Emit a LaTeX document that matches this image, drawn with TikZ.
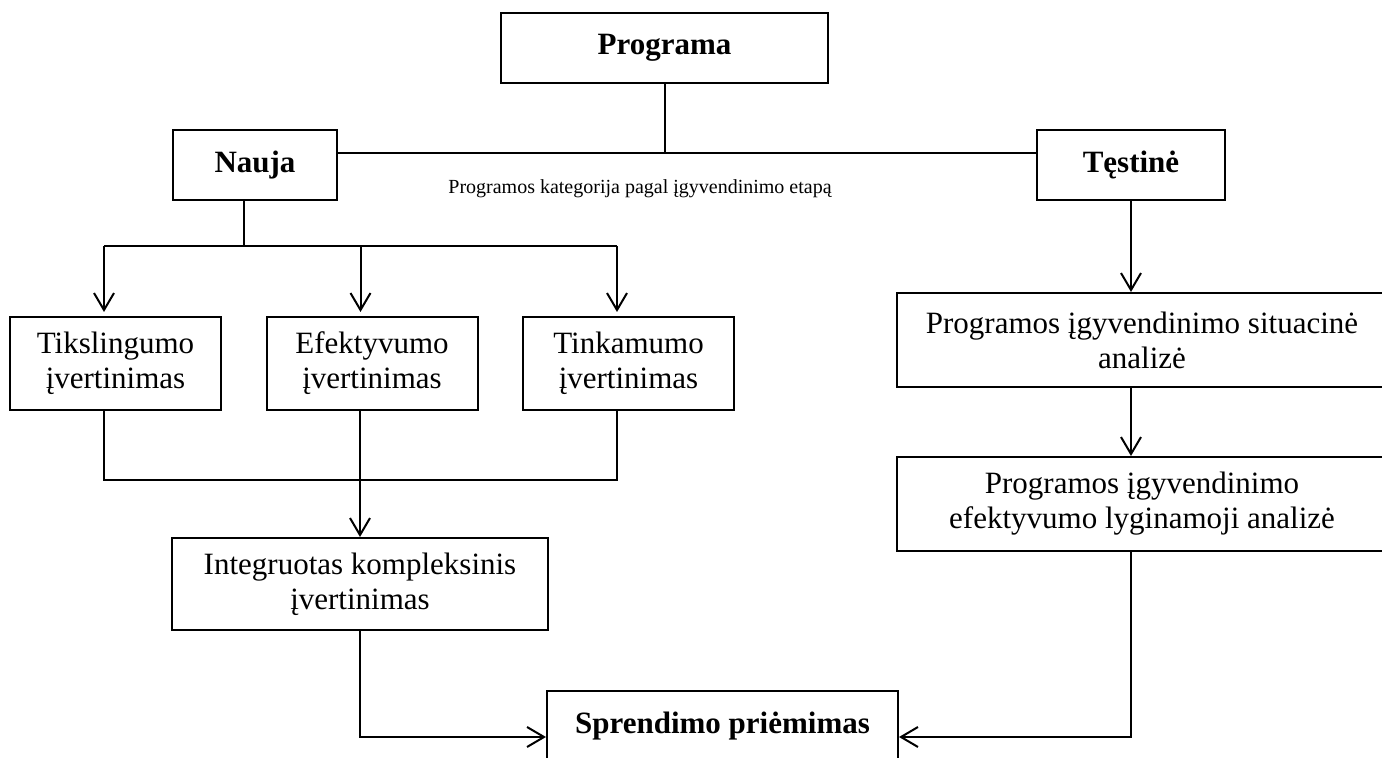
\documentclass[tikz,border=0pt]{standalone}
\usepackage{fontspec}
\setmainfont{Liberation Serif}
\usetikzlibrary{arrows.meta}
\begin{document}
\begin{tikzpicture}[x=0.5pt, y=-0.5pt, line width=1pt,
      >={Straight Barb[length=8.5pt,width=10pt]},
      boxtext/.style={font=\fontsize{15.5}{17.5}\selectfont},
      boxbold/.style={font=\fontsize{15.5}{17.5}\selectfont\bfseries},
      smalltext/.style={font=\fontsize{10}{12}\selectfont}]

      \useasboundingbox (0,0) rectangle (1382,758);
      \clip (0,0) rectangle (1382,758);

      \begin{scope}[every node/.style={rectangle, draw, align=center, inner sep=0pt, boxtext}]
        \node[boxbold, minimum width=163.8pt, minimum height=35pt] (prog)    at (664.5,48)    {Programa};
        \node[boxbold, minimum width=81.7pt,  minimum height=35pt] (nauja)   at (255,165)     {Nauja};
        \node[boxbold, minimum width=94pt,    minimum height=35pt] (testine) at (1131,165)    {Tęstinė};
        \node[minimum width=105.5pt, minimum height=46.5pt]        (tiksl)   at (115.5,363.5) {Tikslingumo\\įvertinimas};
        \node[minimum width=105.5pt, minimum height=46.5pt]        (efekt)   at (372,363.5)   {Efektyvumo\\įvertinimas};
        \node[minimum width=105.5pt, minimum height=46.5pt]        (tinkam)  at (628.5,363.5) {Tinkamumo\\įvertinimas};
        \node[minimum width=188pt,   minimum height=46pt]          (integr)  at (360,584)     {Integruotas kompleksinis\\įvertinimas};
        \node[minimum width=245pt,   minimum height=47pt]          (sit)     at (1142,340)    {Programos įgyvendinimo situacinė\\analizė};
        \node[minimum width=245pt,   minimum height=47pt]          (lygin)   at (1142,504)    {Programos įgyvendinimo\\efektyvumo lyginamoji analizė};
        \node[boxbold, minimum width=175.5pt, minimum height=35pt] (sprend)  at (722.5,726)   {Sprendimo priėmimas};
      \end{scope}

      \node[smalltext] (kat) at (640,189) {Programos kategorija pagal įgyvendinimo etapą};

      \coordinate (hub)    at (664.5,153);
      \coordinate (nsplit) at (244,246);
      \coordinate (merge)  at (360,480);

      \draw (prog) -- (hub);
      \draw (nauja.east |- hub) -- (testine.west |- hub);

      \draw (nauja.south -| nsplit) -- (nsplit);
      \draw ([xshift=-5.75pt]tiksl.north |- nsplit) -- ([xshift=-5.75pt]tinkam.north |- nsplit);
      \foreach \b in {tiksl, efekt, tinkam}
        \draw[->] ([xshift=-5.75pt]\b.north |- nsplit) -- ([xshift=-5.75pt, yshift=2pt]\b.north);

      \draw ([xshift=-5.75pt]tiksl.south) |- (merge) -| ([xshift=-5.75pt]tinkam.south);
      \draw[->] ([xshift=-6pt]efekt.south) -- (integr.north);
      \draw[->] (integr.south) |- ([yshift=-5.5pt]sprend.west);

      \draw[->] (testine.south) -- (testine.south |- sit.north);
      \draw[->] (sit.south -| testine) -- (lygin.north -| testine);
      \draw[->] (lygin.south -| testine) |- ([yshift=-5.5pt]sprend.east);

    \end{tikzpicture}
\end{document}
